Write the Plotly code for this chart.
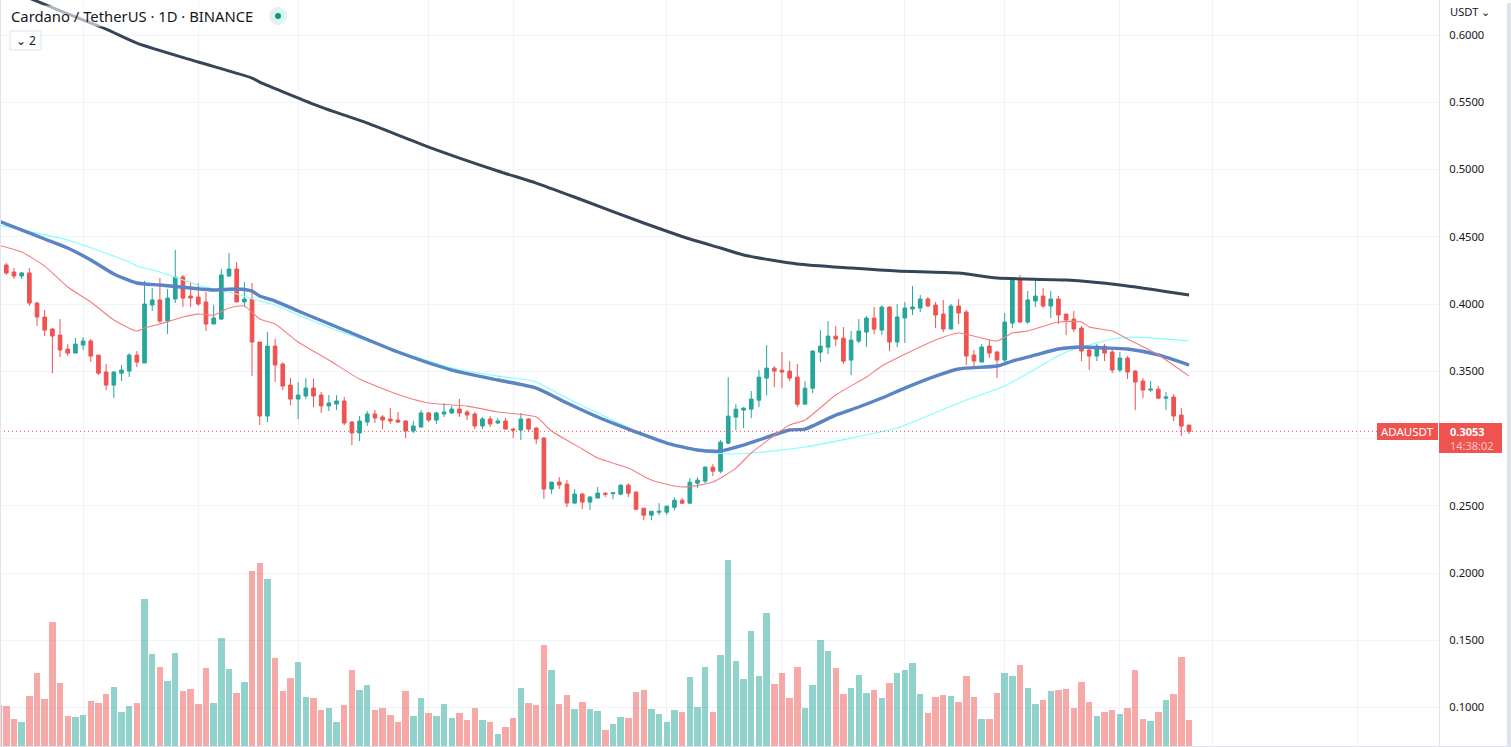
import plotly.graph_objects as go

opens = [.4290,.4238,.4208,.4231,.4007,.3903,.3814,.3769,.3665,.3635,
.3695,.3725,.3620,.3494,.3397,.3486,.3501,.3620,.3561,.3992,
.4030,.3873,.4037,.4201,.4059,.4052,.4015,.3851,.3888,.4208,
.4260,.4015,.4037,.3717,.3167,.3687,.3553,.3397,.3293,.3316,
.3375,.3323,.3242,.3256,.3279,.3122,.3041,.3122,.3182,.3160,
.3145,.3137,.3130,.3056,.3085,.3190,.3137,.3182,.3190,.3219,
.3197,.3182,.3093,.3145,.3115,.3130,.3070,.3063,.3145,.3078,
.3003,.2624,.2676,.2661,.2520,.2587,.2527,.2557,.2593,.2590,
.2586,.2653,.2601,.2482,.2430,.2452,.2452,.2489,.2541,.2519,
.2668,.2683,.2787,.2757,.2965,.3159,.3211,.3218,.3285,.3449,
.3523,.3508,.3501,.3456,.3255,.3374,.3642,.3679,.3761,.3746,
.3583,.3724,.3791,.3895,.3806,.3977,.3717,.3896,.3963,.3970,
.4037,.3992,.3925,.3814,.3985,.3940,.3620,.3568,.3687,.3643,
.3583,.3858,.4186,.3866,.4022,.4059,.3985,.4037,.3925,.3888,
.3821,.3658,.3613,.3687,.3643,.3509,.3598,.3501,.3427,.3360,
.3367,.3300,.3308,.3174,.3100]

highs = [.4305,.4268,.4238,.4268,.4015,.3955,.3821,.3888,.3702,.3747,
.3754,.3740,.3620,.3553,.3501,.3546,.3635,.3650,.4171,.4119,
.4193,.4111,.4402,.4216,.4164,.4156,.4089,.3992,.4260,.4379,
.4312,.4164,.4156,.3717,.3792,.3740,.3568,.3449,.3420,.3450,
.3445,.3346,.3323,.3323,.3309,.3130,.3167,.3204,.3212,.3175,
.3227,.3197,.3137,.3130,.3212,.3197,.3197,.3264,.3242,.3294,
.3212,.3197,.3160,.3167,.3152,.3152,.3078,.3190,.3152,.3085,
.3011,.2676,.2713,.2691,.2624,.2594,.2572,.2639,.2601,.2601,
.2660,.2668,.2608,.2482,.2459,.2519,.2497,.2563,.2556,.2705,
.2712,.2794,.2809,.2988,.3456,.3255,.3233,.3352,.3508,.3694,
.3538,.3642,.3575,.3553,.3427,.3657,.3806,.3873,.3836,.3828,
.3799,.3888,.3910,.3977,.3992,.3985,.3999,.4015,.4134,.4067,
.4052,.4015,.4030,.4000,.4037,.3955,.3658,.3702,.3732,.3650,
.3933,.4201,.4216,.4097,.4186,.4119,.4097,.4059,.3925,.3948,
.3836,.3680,.3702,.3702,.3680,.3643,.3613,.3509,.3449,.3427,
.3390,.3345,.3330,.3226,.3100]

lows = [.4216,.4186,.4186,.3985,.3836,.3762,.3486,.3606,.3613,.3635,
.3658,.3568,.3472,.3360,.3300,.3427,.3457,.3531,.3561,.3948,
.3858,.3777,.4007,.3978,.3978,.3985,.3799,.3851,.3881,.4201,
.4015,.3978,.3464,.3100,.3122,.3420,.3360,.3248,.3144,.3293,
.3234,.3190,.3204,.3212,.3100,.2951,.2981,.3093,.3115,.3070,
.3108,.3115,.3003,.3041,.3085,.3122,.3108,.3160,.3182,.3160,
.3137,.3070,.3070,.3085,.3108,.3070,.3003,.2989,.3056,.2959,
.2550,.2587,.2624,.2490,.2512,.2475,.2468,.2557,.2564,.2549,
.2578,.2564,.2467,.2392,.2392,.2430,.2430,.2467,.2511,.2519,
.2630,.2668,.2720,.2742,.2958,.3062,.3077,.3151,.3233,.3322,
.3382,.3374,.3427,.3233,.3255,.3337,.3568,.3627,.3687,.3553,
.3471,.3709,.3680,.3776,.3769,.3650,.3680,.3710,.3918,.3940,
.3978,.3821,.3791,.3814,.3851,.3546,.3531,.3568,.3598,.3449,
.3553,.3821,.3858,.3851,.3978,.3970,.3896,.3851,.3769,.3791,
.3576,.3509,.3576,.3576,.3486,.3494,.3442,.3211,.3300,.3345,
.3293,.3211,.3129,.3018,.3033]

closes = [.4231,.4208,.4231,.4007,.3903,.3806,.3762,.3658,.3635,.3702,
.3725,.3613,.3486,.3397,.3494,.3509,.3620,.3568,.4000,.4030,
.3873,.4044,.4201,.4044,.4044,.4000,.3851,.3896,.4216,.4260,
.4015,.4037,.3717,.3167,.3687,.3546,.3390,.3293,.3323,.3375,
.3316,.3242,.3264,.3279,.3115,.3041,.3130,.3182,.3152,.3137,
.3130,.3122,.3056,.3093,.3190,.3137,.3190,.3197,.3219,.3190,
.3175,.3093,.3145,.3108,.3130,.3070,.3063,.3145,.3070,.2996,
.2624,.2676,.2654,.2520,.2587,.2527,.2565,.2594,.2586,.2597,
.2653,.2593,.2474,.2430,.2459,.2459,.2497,.2541,.2519,.2675,
.2690,.2787,.2757,.2973,.3166,.3218,.3226,.3293,.3456,.3523,
.3501,.3494,.3449,.3255,.3374,.3650,.3687,.3761,.3739,.3575,
.3732,.3799,.3895,.3813,.3977,.3717,.3903,.3970,.3978,.4037,
.3985,.3918,.3814,.3985,.3933,.3613,.3576,.3680,.3635,.3583,
.3866,.4186,.3866,.4030,.4059,.3985,.4037,.3918,.3881,.3814,
.3650,.3613,.3687,.3635,.3509,.3598,.3494,.3420,.3360,.3367,
.3300,.3308,.3167,.3092,.3053]

# first entry is the bar just left of the first visible candle
volumes = [123,120,81,72,150,219,141,372,189,90,87,93,135,129,156,177,102,120,129,441,276,
237,195,279,165,171,126,234,129,324,231,159,192,525,549,501,264,165,204,252,147,
144,108,114,72,123,228,168,183,108,114,93,72,165,90,144,99,90,126,84,99,
78,114,78,72,36,57,84,174,129,123,303,228,126,153,111,132,111,105,48,66,
87,84,162,168,111,96,72,108,102,207,117,237,102,273,558,255,201,345,210,399,
186,219,144,237,114,183,318,285,234,156,174,213,159,168,144,189,219,228,249,156,
99,147,153,150,132,210,147,81,81,159,219,210,243,174,126,138,165,168,171,114,
192,132,90,102,108,96,114,228,81,75,102,138,156,267,78]

ma_black_x = [3,5,9,13,17,25,32,33,41,47,55,64,69,75,83,89,93,96,103,110,116,124,129,138,145,154]
ma_black_y = [.6274,.6227,.6134,.6044,.5940,.5799,.5680,.5650,.5464,.5345,.5167,.4989,.4899,.4773,.4602,.4483,.4416,.4364,.4297,.4267,.4245,.4230,.4193,.4178,.4141,.4067]

ma_blue_x = [-1,0,5,8,11,14,17,20,24,27,30,32,33,35,38,44,51,58,64,69,73,77,82,86,90,93,96,98,102,104,108,111,114,117,121,124,129,131,134,137,140,143,146,150,154]
ma_blue_y = [.4617,.4595,.4483,.4416,.4327,.4223,.4156,.4141,.4119,.4104,.4111,.4096,.4059,.4022,.3948,.3807,.3643,.3509,.3435,.3375,.3264,.3160,.3048,.2966,.2914,.2907,.2951,.2989,.3063,.3070,.3174,.3234,.3301,.3375,.3464,.3517,.3539,.3576,.3621,.3665,.3680,.3673,.3665,.3621,.3546]

ma_cyan_x = [-1,8,10,16,17,20,25,30,33,35,38,44,51,58,64,68,69,73,77,82,86,90,94,97,104,110,116,119,125,130,134,138,141,144,147,154]
ma_cyan_y = [.4587,.4476,.4438,.4312,.4282,.4238,.4141,.4074,.4022,.3992,.3918,.3784,.3650,.3524,.3464,.3435,.3420,.3301,.3189,.3056,.2966,.2907,.2885,.2892,.2937,.3003,.3078,.3145,.3286,.3390,.3517,.3643,.3695,.3740,.3754,.3725]

ma_red_x = [-1,2,5,8,11,14,17,18,20,23,25,27,29,31,33,35,38,42,46,52,55,60,64,69,71,75,77,81,84,88,92,95,97,102,104,108,112,114,116,121,124,129,131,133,137,140,141,144,146,150,154]
ma_red_y = [.4438,.4386,.4282,.4126,.4015,.3881,.3799,.3821,.3851,.3903,.3925,.3918,.3970,.3985,.3888,.3851,.3717,.3583,.3442,.3308,.3264,.3241,.3197,.3160,.3056,.2922,.2855,.2780,.2691,.2639,.2676,.2780,.2892,.3100,.3137,.3323,.3457,.3539,.3598,.3732,.3784,.3725,.3784,.3799,.3866,.3866,.3829,.3799,.3740,.3621,.3464]

price_ticks = [0.6, 0.55, 0.5, 0.45, 0.4, 0.35, 0.3, 0.25, 0.2, 0.15, 0.1]
price_labels = ["0.6000", "0.5500", "0.5000", "0.4500", "0.4000", "0.3500", "", "0.2500", "0.2000", "0.1500", "0.1000"]
time_grid = [10, 25, 38, 55, 66, 86, 101, 117, 130, 145, 157, 176]
last_price = 0.3053

W, H = 1511, 747
PLOT_W = 1439
UP, DOWN = "#26a69a", "#ef5350"
BORDER = "#e0e3eb"
FONT = "Noto Sans"
TEXT = "#131722"


def px(x):
    return x / PLOT_W


def py(y):
    return 1 - y / H


idx = list(range(len(opens)))
vol_x = list(range(-1, len(opens)))
vol_colors = [DOWN] + [UP if c >= o else DOWN for o, c in zip(opens, closes)]

fig = go.Figure()
fig.add_trace(go.Bar(x=vol_x, y=volumes, marker=dict(color=vol_colors, opacity=0.5, line_width=0),
                     width=0.84, yaxis="y2", hoverinfo="skip", showlegend=False))
fig.add_trace(go.Candlestick(x=idx, open=opens, high=highs, low=lows, close=closes,
                             increasing=dict(line=dict(color=UP, width=1), fillcolor=UP),
                             decreasing=dict(line=dict(color=DOWN, width=1), fillcolor=DOWN),
                             whiskerwidth=0, showlegend=False))
for xs, ys, col, w in [(ma_black_x, ma_black_y, "#364557", 3),
                       (ma_cyan_x, ma_cyan_y, "#80ffff", 1.1),
                       (ma_blue_x, ma_blue_y, "#5b84c4", 3.4),
                       (ma_red_x, ma_red_y, "#f77c80", 1.1)]:
    fig.add_trace(go.Scatter(x=xs, y=ys, mode="lines",
                             line=dict(color=col, width=w, shape="spline", smoothing=0.6),
                             hoverinfo="skip", showlegend=False))

shapes = [
    dict(type="line", xref="paper", yref="y", x0=0, x1=1, y0=last_price, y1=last_price,
         line=dict(color=DOWN, width=1, dash="1px,3px")),
    # frame strips
    dict(type="rect", xref="paper", yref="paper", x0=px(0), x1=px(1), y0=0, y1=1,
         fillcolor=BORDER, line_width=0),
    dict(type="rect", xref="paper", yref="paper", x0=0, x1=px(1511), y0=0, y1=py(746),
         fillcolor=BORDER, line_width=0),
    dict(type="rect", xref="paper", yref="paper", x0=px(1507), x1=px(1511), y0=0, y1=py(3),
         fillcolor=BORDER, line_width=0),
    # price labels
    dict(type="rect", xref="paper", yref="paper", x0=px(1377), x1=px(1438), y0=py(440), y1=py(423),
         fillcolor=DOWN, line_width=0),
    dict(type="rect", xref="paper", yref="paper", x0=px(1439), x1=px(1502), y0=py(453), y1=py(423),
         fillcolor=DOWN, line_width=0),
    # status dot
    dict(type="circle", xref="paper", yref="paper", x0=px(269), x1=px(287), y0=py(25), y1=py(7),
         fillcolor="#dff3ef", line_width=0),
    dict(type="circle", xref="paper", yref="paper", x0=px(275), x1=px(281), y0=py(19), y1=py(13),
         fillcolor="#089981", line_width=0),
    # collapsed legend box
    dict(type="path", xref="paper", yref="paper",
         path=f"M {px(10)} {py(31)} L {px(41)} {py(31)} L {px(41)} {py(50)} L {px(10)} {py(50)} Z",
         fillcolor="#ffffff", line=dict(color=BORDER, width=1)),
]


def note(x, y, text, color=TEXT, size=12, anchor="left", bg=None):
    return dict(xref="paper", yref="paper", x=px(x), y=py(y), text=text, showarrow=False,
                xanchor=anchor, yanchor="middle", align=anchor,
                font=dict(family=FONT, size=size, color=color),
                bgcolor=bg, borderpad=0)


annotations = [
    note(10, 16, "Cardano / TetherUS · 1D · BINANCE", size=14.8, bg="rgba(255,255,255,0.6)"),
    note(15, 40, "⌄ 2", size=12),
    note(1449, 12, "USDT ⌄", size=11.2),
    note(1407.5, 431.5, "ADAUSDT", color="#ffffff", size=11.5, anchor="center"),
    note(1449, 438.5, "<b>0.3053</b><br><span style=\"color:#fcc6c7\">14:38:02</span>",
         color="#ffffff", size=11),
]

fig.update_layout(
    width=W, height=H, margin=dict(l=0, r=W - PLOT_W, t=0, b=0),
    paper_bgcolor="#ffffff", plot_bgcolor="#ffffff",
    boxgap=0.32, bargap=0, showlegend=False, hovermode=False,
    xaxis=dict(range=[-0.82, 186.55], tickvals=time_grid, showticklabels=False, ticks="",
               showgrid=True, gridcolor="#f0f3fa", gridwidth=1, zeroline=False,
               rangeslider=dict(visible=False), showline=False, fixedrange=True),
    yaxis=dict(range=[0.07063, 0.62602], side="right", tickvals=price_ticks,
               ticktext=price_labels, showgrid=True, gridcolor="#f0f3fa",
               gridwidth=1, zeroline=False, showline=True, linecolor=BORDER, linewidth=1,
               ticks="outside", ticklen=7, tickcolor="rgba(0,0,0,0)",
               tickfont=dict(family=FONT, size=11.2, color=TEXT), fixedrange=True),
    yaxis2=dict(range=[-3, 2238], overlaying="y", side="left", showgrid=False, zeroline=False,
                showticklabels=False, ticks="", showline=False, fixedrange=True),
    shapes=shapes, annotations=annotations,
)

fig.write_html("out.html", config=dict(displayModeBar=False),
               post_script="document.body.style.margin='0';document.documentElement.style.overflow='hidden';")
